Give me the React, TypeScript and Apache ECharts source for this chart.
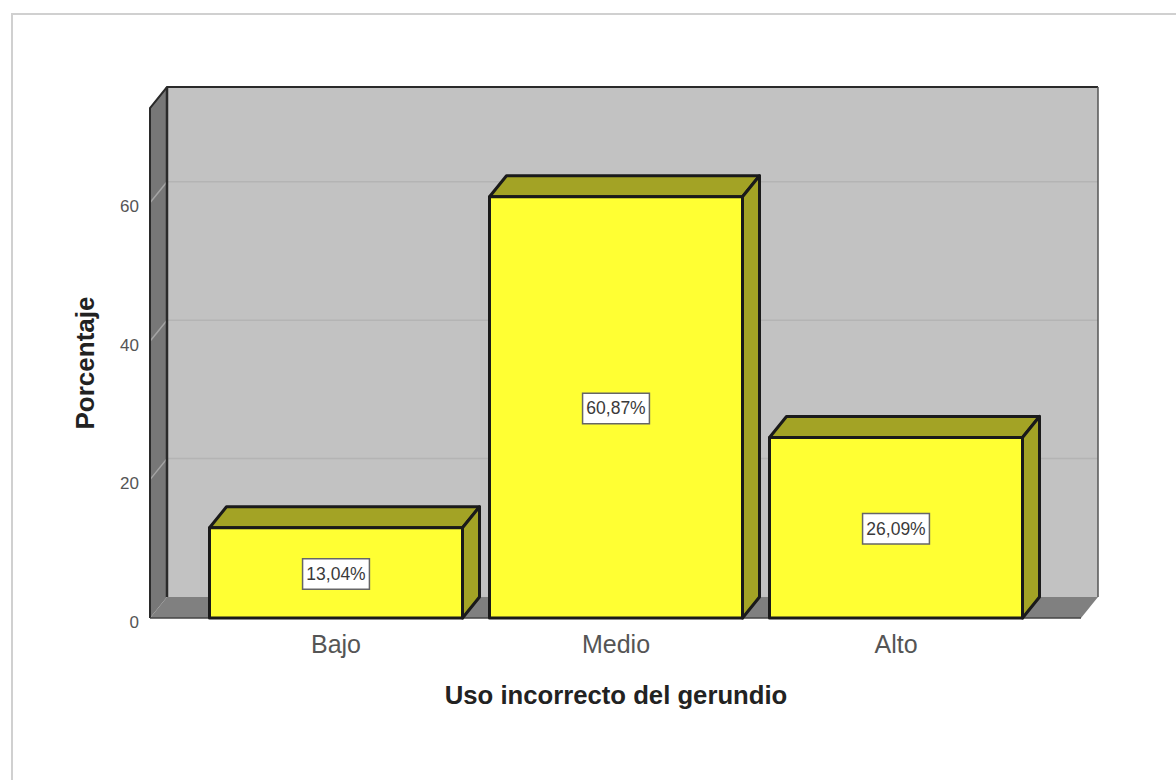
import React, { useEffect, useRef } from "react";
import * as echarts from "echarts";

// Frequency chart: "Uso incorrecto del gerundio"
const categories = ["Bajo", "Medio", "Alto"];
const percentages = [13.04, 60.87, 26.09];
const gridTicks = [20, 40, 60];

const FONT = '"Liberation Sans", Arial, sans-serif';
const DEPTH_X = 17;
const DEPTH_Y = -21;
const BAR_RATIO = 253 / 280;

// Room behind the bars: back wall, left wall, floor and the receding grid lines.
function renderRoom(params: any, api: any) {
  const cs = params.coordSys;
  const left = cs.x - 46;
  const right = cs.x + cs.width + 45;
  const top = cs.y;
  const bottom = cs.y + cs.height;

  const children: any[] = [
    {
      type: "polygon",
      shape: {
        points: [
          [left + DEPTH_X, top + DEPTH_Y],
          [right + DEPTH_X, top + DEPTH_Y],
          [right + DEPTH_X, bottom + DEPTH_Y],
          [left + DEPTH_X, bottom + DEPTH_Y],
        ],
      },
      style: { fill: "#c2c2c2", stroke: "none" },
    },
    {
      type: "polygon",
      shape: {
        points: [
          [left, top],
          [left + DEPTH_X, top + DEPTH_Y],
          [left + DEPTH_X, bottom + DEPTH_Y],
          [left, bottom],
        ],
      },
      style: { fill: "#777777", stroke: "none" },
    },
    {
      type: "polygon",
      shape: {
        points: [
          [left, bottom],
          [left + DEPTH_X, bottom + DEPTH_Y],
          [right + DEPTH_X, bottom + DEPTH_Y],
          [right, bottom],
        ],
      },
      style: { fill: "#808080", stroke: "none" },
    },
  ];

  gridTicks.forEach((tick) => {
    const y = api.coord([0, tick])[1];
    children.push({
      type: "line",
      shape: { x1: left, y1: y, x2: left + DEPTH_X, y2: y + DEPTH_Y },
      style: { stroke: "#a4a4a4", lineWidth: 1.5 },
    });
    children.push({
      type: "line",
      shape: { x1: left + DEPTH_X, y1: y + DEPTH_Y, x2: right + DEPTH_X, y2: y + DEPTH_Y },
      style: { stroke: "#b4b4b4", lineWidth: 1.5 },
    });
  });

  const edges: [number[][], string, number][] = [
    [[[left, bottom], [left, top], [left + DEPTH_X, top + DEPTH_Y], [right + DEPTH_X, top + DEPTH_Y]], "#2a2a2a", 2],
    [[[left + DEPTH_X, top + DEPTH_Y], [left + DEPTH_X, bottom + DEPTH_Y]], "#2a2a2a", 2.5],
    [[[right + DEPTH_X, top + DEPTH_Y], [right + DEPTH_X, bottom + DEPTH_Y]], "#555555", 1.5],
    [[[left, bottom], [right, bottom]], "#444444", 1.5],
  ];
  edges.forEach(([points, stroke, lineWidth]) => {
    children.push({
      type: "polyline",
      shape: { points },
      style: { fill: "none", stroke, lineWidth },
    });
  });

  return { type: "group", children };
}

// One extruded bar: front face, top face, side face and a boxed value label.
function renderBar(_params: any, api: any) {
  const category = api.value(0);
  const value = api.value(1);
  const [cx, yTop] = api.coord([category, value]);
  const yBase = api.coord([category, 0])[1];
  const half = (api.size([1, 0])[0] * BAR_RATIO) / 2;
  const x0 = cx - half;
  const x1 = cx + half;
  const edge = { stroke: "#1a1a1a", lineWidth: 3, lineJoin: "round" };
  const label = value.toFixed(2).replace(".", ",") + "%";

  return {
    type: "group",
    children: [
      {
        type: "polygon",
        shape: {
          points: [
            [x0, yTop],
            [x0 + DEPTH_X, yTop + DEPTH_Y],
            [x1 + DEPTH_X, yTop + DEPTH_Y],
            [x1, yTop],
          ],
        },
        style: { fill: "#a3a325", ...edge },
      },
      {
        type: "polygon",
        shape: {
          points: [
            [x1, yTop],
            [x1 + DEPTH_X, yTop + DEPTH_Y],
            [x1 + DEPTH_X, yBase + DEPTH_Y],
            [x1, yBase],
          ],
        },
        style: { fill: "#a3a325", ...edge },
      },
      {
        type: "polygon",
        shape: {
          points: [
            [x0, yTop],
            [x1, yTop],
            [x1, yBase],
            [x0, yBase],
          ],
        },
        style: { fill: "#ffff33", ...edge },
      },
      {
        type: "text",
        x: cx,
        y: (yTop + yBase) / 2 + 1,
        style: {
          text: label,
          font: `17.5px ${FONT}`,
          fill: "#3a3a3a",
          align: "center",
          verticalAlign: "middle",
          backgroundColor: "#ffffff",
          borderColor: "#666666",
          borderWidth: 1.5,
          padding: [6, 3, 5, 3],
        },
      },
    ],
  };
}

export default function App() {
  const ref = useRef<HTMLDivElement>(null);

  useEffect(() => {
    if (!ref.current) return;
    const chart = echarts.init(ref.current, null, { renderer: "svg" });
    chart.setOption({
      animation: false,
      backgroundColor: "#ffffff",
      graphic: [
        {
          type: "rect",
          shape: { x: 12, y: 14, width: 1180, height: 780 },
          style: { fill: "none", stroke: "#d0d0d0", lineWidth: 2 },
          silent: true,
        },
      ],
      grid: { left: 196, top: 108, width: 840, height: 510 },
      xAxis: {
        type: "category",
        data: categories,
        name: "Uso incorrecto del gerundio",
        nameLocation: "middle",
        nameGap: 64,
        nameTextStyle: { fontFamily: FONT, fontSize: 25.7, fontWeight: "bold", color: "#222222" },
        axisLine: { show: false },
        axisTick: { show: false },
        axisLabel: { fontFamily: FONT, fontSize: 25, color: "#555555", margin: 13 },
      },
      yAxis: {
        type: "value",
        min: 0,
        max: 73.7,
        interval: 20,
        offset: 46,
        name: "Porcentaje",
        nameLocation: "middle",
        nameGap: 52,
        nameTextStyle: { fontFamily: FONT, fontSize: 26, fontWeight: "bold", color: "#222222" },
        axisLine: { show: false },
        axisTick: { show: false },
        splitLine: { show: false },
        axisLabel: {
          fontFamily: FONT,
          fontSize: 17,
          color: "#555555",
          margin: 11,
          showMaxLabel: false,
          verticalAlign: "top",
          lineHeight: 8,
        },
      },
      series: [
        {
          type: "custom",
          z: 1,
          silent: true,
          renderItem: renderRoom,
          data: [[0, 0]],
          encode: { x: 0, y: 1 },
        },
        {
          type: "custom",
          z: 2,
          silent: true,
          renderItem: renderBar,
          data: percentages.map((value, index) => [index, value]),
          encode: { x: 0, y: 1 },
        },
      ],
    });
    return () => chart.dispose();
  }, []);

  return (
    <div
      ref={ref}
      style={{ position: "fixed", left: 0, top: 0, width: 1176, height: 780 }}
    />
  );
}
